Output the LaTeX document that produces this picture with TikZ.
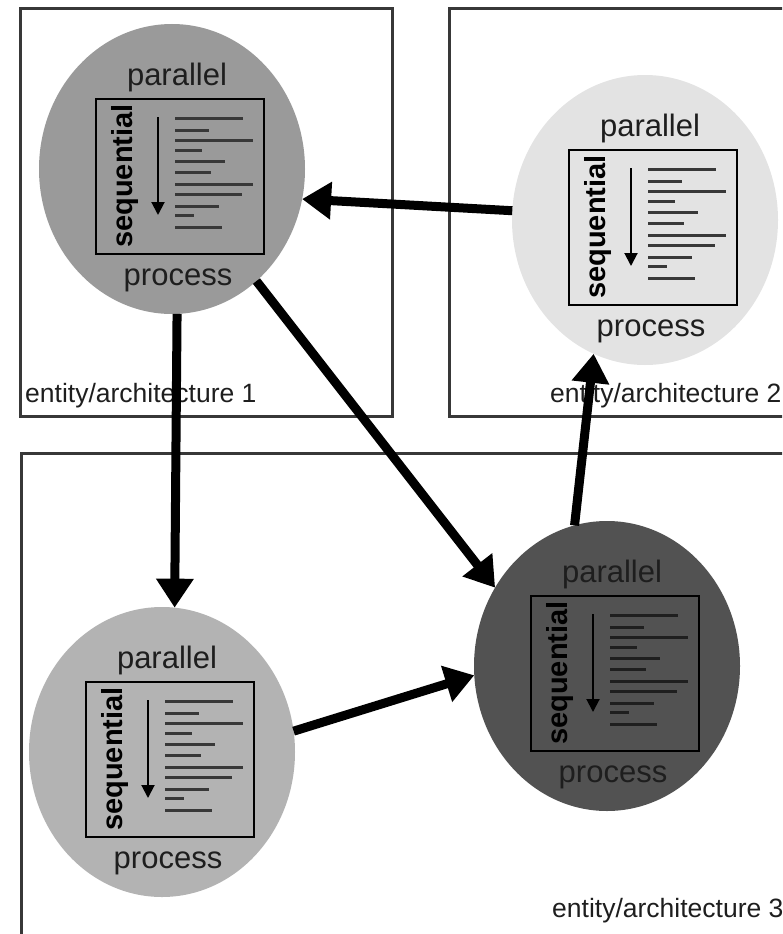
\documentclass[tikz,border=0pt]{standalone}
\usepackage{fontspec}
\setmainfont{Liberation Sans}
\usetikzlibrary{arrows.meta,calc,shapes.geometric}

\definecolor{framegray}{HTML}{383838}
\definecolor{ink}{HTML}{1E1E1E}
\definecolor{discA}{HTML}{9A9A9A}
\definecolor{discB}{HTML}{E3E3E3}
\definecolor{discC}{HTML}{B3B3B3}
\definecolor{discD}{HTML}{525252}

\tikzset{
  frame/.style={draw=framegray, line width=3pt},
  procdisc/.style={ellipse, draw=none, minimum width=266pt, minimum height=290pt,
    inner sep=0pt, outer sep=0pt},
  codebox/.style={draw=black, line width=2pt, minimum width=168pt, minimum height=155pt,
    inner sep=0pt},
  captxt/.style={font=\fontsize{31}{36}\selectfont, text=ink, inner sep=0pt, anchor=base},
  seqtxt/.style={font=\bfseries\fontsize{29}{34}\selectfont, text=black, inner sep=0pt,
    rotate=90},
  codeline/.style={line width=3pt},
  seqarrow/.style={draw=black, line width=2pt, -{Triangle[length=13pt,width=13pt]}},
  flowarrow/.style={draw=black, line width=9pt, -{Triangle[length=29pt,width=36pt]}},
  framelabel/.style={font=\fontsize{26.5}{30}\selectfont, text=ink, inner sep=0pt,
    anchor=base west},
}

% One process: disc, "parallel"/"process" captions, listing box with a
% sequential arrow and code lines.  #1 name, #2 centre, #3 fill, #4 line colour
\newcommand\procunit[4]{%
  \node[procdisc, fill=#3] (#1) at (#2) {};
  \node[codebox] (#1box) at ($(#1)+(8,7)$) {};
  \node[captxt] (#1par) at ($(#1)+(5,-84)$) {parallel};
  \node[captxt] (#1proc) at ($(#1)+(6,116)$) {process};
  \node[seqtxt] (#1seq) at ($(#1box)+(-55,0)$) {sequential};
  \draw[seqarrow] ($(#1box)+(-22,-59)$) -- ($(#1box)+(-22,39)$);
  \foreach \yy/\ll in {-58/68,-46/34,-36/78,-26/27,-15/50,-4/36,8/78,18/67,30/44,39/19,51/47}
    \draw[codeline, draw=#4] ($(#1box)+(-5,\yy)$) -- ++(\ll,0);
}

\begin{document}
\begin{tikzpicture}[x=1pt, y=-1pt]
  \useasboundingbox (0,0) rectangle (782,934);
  \clip (0,0) rectangle (782,934);

  % entity/architecture frames
  \draw[frame] (20,9) rectangle (392,416);
  \draw[frame] (449,9) rectangle (800,416);
  \draw[frame] (21,453) rectangle (800,960);

  \node[framelabel] (lab1) at (25,402) {entity/architecture 1};
  \node[framelabel] (lab2) at (550,402) {entity/architecture 2};
  \node[framelabel] (lab3) at (552,917) {entity/architecture 3};

  % processes
  \procunit{pa}{172,169}{discA}{black!78}
  \procunit{pb}{645,220}{discB}{black!78}
  \procunit{pc}{162,752}{discC}{black!78}
  \procunit{pd}{607,666}{discD}{black!88}

  % communication between processes
  \draw[flowarrow] (pb.176) -- (pa.-13);
  \draw[flowarrow] (pa.-88) -- (pc.85);
  \draw[flowarrow] (pa.-53) -- (pd.145);
  \draw[flowarrow] (pc.9) -- (pd.184);
  \draw[flowarrow] (pd.103) -- (pb.-111);
\end{tikzpicture}
\end{document}
